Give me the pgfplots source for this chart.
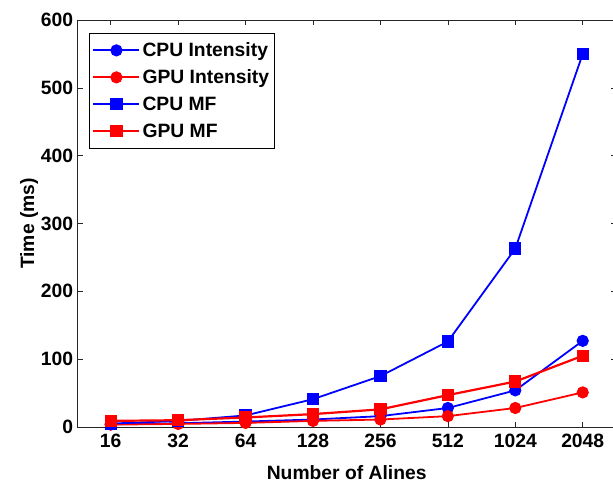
\documentclass[border=0pt]{standalone}
\usepackage{pgfplots}
\pgfplotsset{compat=1.18}
\usepackage{fontspec}
\setmainfont{Liberation Sans}
\definecolor{mblue}{RGB}{0,0,255}
\definecolor{mred}{RGB}{255,0,0}
\newcommand{\ff}{\fontsize{19.3}{23}\selectfont\bfseries}
\begin{document}
\begin{tikzpicture}
\begin{axis}[
  name=ax,
  scale only axis,
  width=538pt, height=407pt,
  xmin=3.511, xmax=11.489,
  ymin=0, ymax=600,
  xtick={4,5,6,7,8,9,10,11},
  xticklabels={16,32,64,128,256,512,1024,2048},
  ytick={0,100,200,300,400,500,600},
  tick align=inside,
  major tick length=5pt,
  tick style={black!85, line width=0.6pt},
  axis line style={black!85, line width=0.8pt},
  /pgf/number format/assume math mode=true,
  font=\ff,
  ticklabel style={font=\ff},
  xticklabel style={yshift=-3.5pt},
  yticklabel style={xshift=-1pt},
  xlabel={Number of Alines},
  ylabel={Time (ms)},
  xlabel style={at={(axis description cs:0.5,-0.1278)}, anchor=base, font=\ff},
  ylabel style={at={(axis description cs:-0.0812,0.5)}, anchor=base, font=\ff},
  legend style={at={(axis description cs:0.021,0.968)}, anchor=north west,
    draw=black, line width=0.7pt, fill=white,
    font=\ff,
    inner xsep=3pt, inner ysep=5pt, row sep=3pt,
    nodes={inner sep=2pt, text height=16pt, text depth=4pt}},
  legend cell align=left,
  legend image code/.code={\draw[mark repeat=2,mark phase=2] plot coordinates {(0pt,0pt) (23pt,0pt) (46pt,0pt)};},
]
\addplot[color=mblue, line width=1.8pt, mark size=5.6pt, mark=*, mark options={solid, fill=mblue, line width=1pt}] coordinates {
(4,4) (5,5.5) (6,8) (7,11) (8,16) (9,28) (10,54) (11,127)};
\addlegendentry{CPU Intensity}
\addplot[color=mred, line width=1.8pt, mark size=5.6pt, mark=*, mark options={solid, fill=mred, line width=1pt}] coordinates {
(4,3.5) (5,4.5) (6,6) (7,9) (8,11) (9,16) (10,28) (11,51)};
\addlegendentry{GPU Intensity}
\addplot[color=mblue, line width=1.8pt, mark size=5.6pt, mark=square*, mark options={solid, fill=mblue, line width=1pt}] coordinates {
(4,5) (5,9) (6,17) (7,41) (8,75) (9,126) (10,263) (11,550)};
\addlegendentry{CPU MF}
\addplot[color=mred, line width=2.2pt, mark size=5.6pt, mark=square*, mark options={solid, fill=mred, line width=1pt}] coordinates {
(4,9) (5,10) (6,14) (7,19) (8,26) (9,47) (10,67) (11,105)};
\addlegendentry{GPU MF}
\end{axis}
\pgfresetboundingbox
\path[use as bounding box] ([xshift=-77.7pt,yshift=-58pt]ax.south west) rectangle ([xshift=-2.7pt,yshift=20pt]ax.north east);
\end{tikzpicture}
\end{document}
